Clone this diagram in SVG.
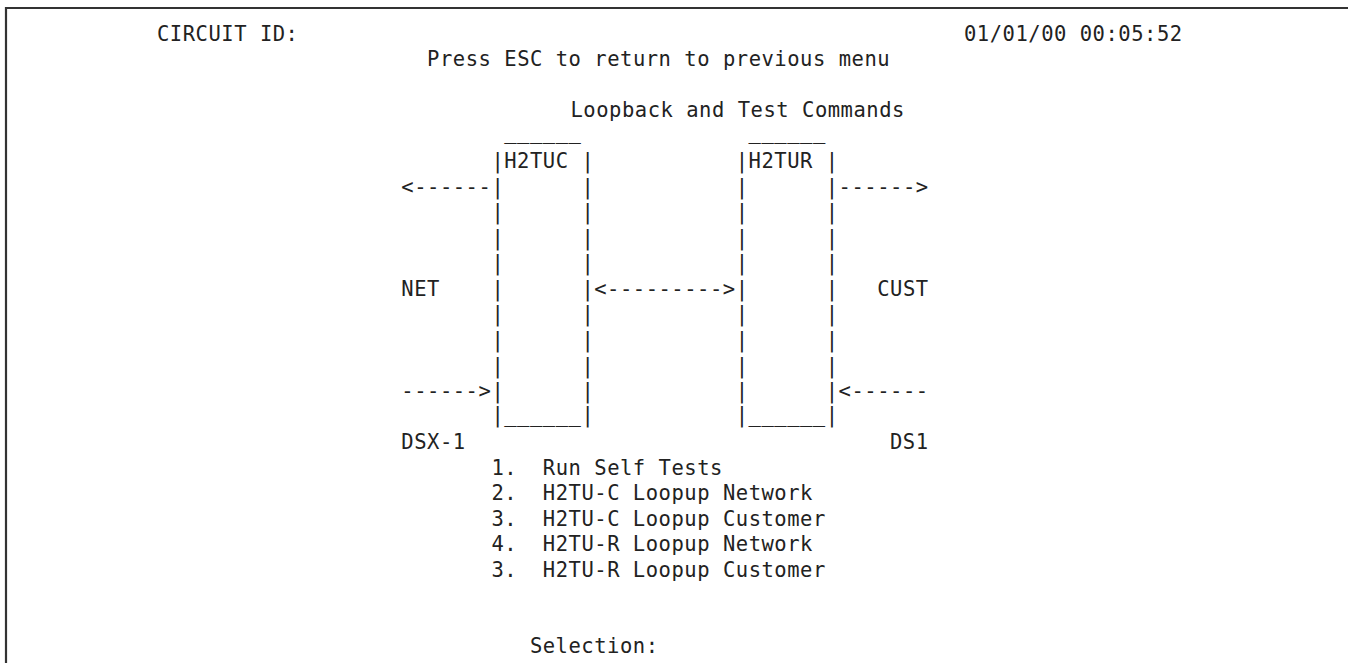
<svg xmlns="http://www.w3.org/2000/svg" width="1348" height="663" viewBox="0 0 1348 663">
<style>
text{font-family:"DejaVu Sans Mono","Liberation Mono",monospace;font-size:20.5px;letter-spacing:0.52px;fill:#222;white-space:pre}
.frame{stroke:#333;stroke-width:2.2;fill:none}
</style>
<rect width="1348" height="663" fill="#fff"/>
<path class="frame" d="M6 663 V8 H1348"/>
<g id="header" xml:space="preserve">
<text x="157" y="40.7">CIRCUIT ID:</text>
<text x="964" y="40.7">01/01/00 00:05:52</text>
<text x="427.1" y="66.2">Press ESC to return to previous menu</text>
<text x="570.5" y="117.3">Loopback and Test Commands</text>
</g>
<g id="h2tuc" xml:space="preserve">
<text x="504.2" y="139">______</text>
<text x="491.4" y="168.3">|H2TUC |</text>
<text x="491.4" y="193.8">|      |</text>
<text x="491.4" y="219.3">|      |</text>
<text x="491.4" y="244.9">|      |</text>
<text x="491.4" y="270.4">|      |</text>
<text x="491.4" y="295.9">|      |</text>
<text x="491.4" y="321.4">|      |</text>
<text x="491.4" y="346.9">|      |</text>
<text x="491.4" y="372.5">|      |</text>
<text x="491.4" y="398.0">|      |</text>
<text x="491.4" y="421.5">|______|</text>
</g>
<g id="h2tur" xml:space="preserve">
<text x="748.6" y="139">______</text>
<text x="735.7" y="168.3">|H2TUR |</text>
<text x="735.7" y="193.8">|      |</text>
<text x="735.7" y="219.3">|      |</text>
<text x="735.7" y="244.9">|      |</text>
<text x="735.7" y="270.4">|      |</text>
<text x="735.7" y="295.9">|      |</text>
<text x="735.7" y="321.4">|      |</text>
<text x="735.7" y="346.9">|      |</text>
<text x="735.7" y="372.5">|      |</text>
<text x="735.7" y="398.0">|      |</text>
<text x="735.7" y="421.5">|______|</text>
</g>
<g id="connectors" xml:space="preserve">
<text x="401.3" y="193.8">&lt;------</text>
<text x="838.6" y="193.8">------&gt;</text>
<text x="594.2" y="295.9">&lt;---------&gt;</text>
<text x="401.3" y="398.0">------&gt;</text>
<text x="838.6" y="398.0">&lt;------</text>
</g>
<g id="labels" xml:space="preserve">
<text x="401.3" y="295.9">NET</text>
<text x="877.2" y="295.9">CUST</text>
<text x="401.3" y="449.0">DSX-1</text>
<text x="890.0" y="449.0">DS1</text>
</g>
<g id="menu" xml:space="preserve">
<text x="491.4" y="474.5">1.  Run Self Tests</text>
<text x="491.4" y="500.1">2.  H2TU-C Loopup Network</text>
<text x="491.4" y="525.6">3.  H2TU-C Loopup Customer</text>
<text x="491.4" y="551.1">4.  H2TU-R Loopup Network</text>
<text x="491.4" y="576.6">3.  H2TU-R Loopup Customer</text>
<text x="529.9" y="653.2">Selection:</text>
</g>
</svg>
